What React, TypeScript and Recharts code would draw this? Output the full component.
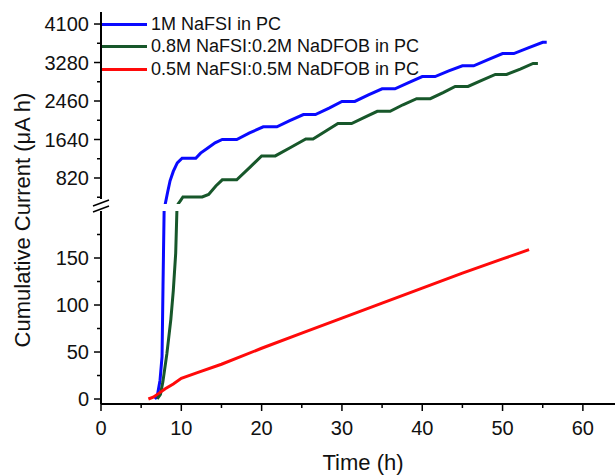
import { LineChart, Line, XAxis, YAxis, Legend } from 'recharts';

// 1M NaFSI in PC
const blueT = [6.7, 7.0, 7.35, 7.6, 7.72, 7.85, 8.0, 8.3, 8.6, 9.0, 9.5, 10.1, 11.8, 12.4, 13.3, 14.2, 15.1, 16.9, 18.5, 20.2, 21.9, 23.5, 25.2, 26.7, 28.4, 30.0, 31.6, 33.3, 35.0, 36.6, 38.3, 40.0, 41.6, 43.3, 45.0, 46.4, 48.2, 50.0, 51.4, 53.2, 55.0, 55.5];
const blueV = [0, 3, 20, 45, 120, 195, 266, 520, 760, 960, 1140, 1240, 1240, 1350, 1460, 1570, 1640, 1640, 1780, 1910, 1910, 2040, 2170, 2170, 2310, 2450, 2450, 2590, 2720, 2720, 2850, 2980, 2980, 3100, 3210, 3210, 3340, 3470, 3470, 3590, 3710, 3710];

// 0.8M NaFSI:0.2M NaDFOB in PC
const greenT = [7.0, 7.4, 7.7, 8.2, 8.7, 9.0, 9.3, 9.45, 9.6, 9.9, 10.2, 12.6, 13.4, 14.3, 15.1, 16.9, 18.5, 20.0, 21.7, 23.6, 25.5, 26.4, 28.0, 29.5, 31.2, 32.8, 34.4, 36.0, 37.6, 39.3, 41.0, 42.6, 44.1, 45.7, 47.4, 49.1, 50.5, 52.2, 53.8, 54.4];
const greenV = [0, 5, 18, 48, 85, 115, 155, 200, 266, 340, 415, 415, 470, 650, 780, 780, 1040, 1290, 1290, 1470, 1650, 1650, 1820, 1980, 1980, 2110, 2240, 2240, 2380, 2510, 2510, 2640, 2770, 2770, 2900, 3025, 3025, 3140, 3260, 3260];

// 0.5M NaFSI:0.5M NaDFOB in PC
const redT = [5.9, 6.5, 7.2, 8.0, 9.0, 10.0, 12, 15, 20, 25, 30, 35, 40, 45, 50, 53.3];
const redV = [0, 2, 6, 11, 16, 22, 28, 37, 54, 70, 86, 102, 118, 134, 149, 159];

const xTicks = [0, 5, 10, 15, 20, 25, 30, 35, 40, 45, 50, 55, 60];
const xMajor = [0, 10, 20, 30, 40, 50, 60];
const upperTicks = [410, 820, 1230, 1640, 2050, 2460, 2870, 3280, 3690, 4100];
const upperMajor = [820, 1640, 2460, 3280, 4100];
const lowerTicks = [0, 25, 50, 75, 100, 125, 150, 175];
const lowerMajor = [0, 50, 100, 150];

const toPoints = (t: number[], v: number[]) => t.map((x, i) => ({ t: x, v: v[i] }));

const series = [
  { name: '1M NaFSI in PC', color: '#0a0aff', data: toPoints(blueT, blueV) },
  { name: '0.8M NaFSI:0.2M NaDFOB in PC', color: '#17572a', data: toPoints(greenT, greenV) },
  { name: '0.5M NaFSI:0.5M NaDFOB in PC', color: '#ff0a0a', data: toPoints(redT, redV) },
];

const FONT = '"Liberation Sans", Arial, sans-serif';

const yTick = (majors: number[]) => (p: any) => {
  const major = majors.includes(p.payload.value);
  return (
    <g>
      <line x1={p.x} x2={p.x - (major ? 7 : 4)} y1={p.y} y2={p.y} stroke="#000" strokeWidth={1.5} />
      {major && (
        <text x={p.x - 12} y={p.y} dy="0.36em" textAnchor="end" fontSize={20} fontFamily={FONT} fill="#111">
          {p.payload.value}
        </text>
      )}
    </g>
  );
};

const xTick = (p: any) => {
  const major = xMajor.includes(p.payload.value);
  return (
    <g>
      <line x1={p.x} x2={p.x} y1={p.y} y2={p.y + (major ? 7 : 4)} stroke="#000" strokeWidth={1.5} />
      {major && (
        <text x={p.x} y={p.y + 31} textAnchor="middle" fontSize={20} fontFamily={FONT} fill="#111">
          {p.payload.value}
        </text>
      )}
    </g>
  );
};

const LegendBox = () => (
  <div style={{ fontFamily: FONT, fontSize: 18, color: '#111' }}>
    {series.map(s => (
      <div key={s.name} style={{ display: 'flex', alignItems: 'center', height: 22.5 }}>
        <div style={{ width: 45, height: 3, background: s.color, marginRight: 4 }} />
        <span style={{ whiteSpace: 'nowrap' }}>{s.name}</span>
      </div>
    ))}
  </div>
);

export default function App() {
  return (
    <div style={{ position: 'absolute', left: 0, top: 0, width: 616, height: 475, background: '#fff', overflow: 'hidden' }}>
      {/* upper part of broken axis */}
      <LineChart width={616} height={206} margin={{ top: 12, right: 1, bottom: 2, left: 0 }}
        style={{ position: 'absolute', left: 0, top: 0 }}>
        <XAxis type="number" dataKey="t" domain={[0, 64]} orientation="top" height={0}
          tick={false} tickLine={false} axisLine={{ stroke: '#000', strokeWidth: 2 }} allowDataOverflow />
        <YAxis type="number" dataKey="v" domain={[266, 4356]} allowDataOverflow width={101}
          ticks={upperTicks} interval={0} tickSize={0} tickMargin={0} tickLine={false}
          tick={yTick(upperMajor)} axisLine={{ stroke: '#000', strokeWidth: 2 }} />
        <Legend layout="vertical" align="center" verticalAlign="middle"
          wrapperStyle={{ left: 102, top: 13, width: 'auto' }} content={() => <LegendBox />} />
        {series.map(s => (
          <Line key={s.name} data={s.data} dataKey="v" name={s.name} type="linear" stroke={s.color}
            strokeWidth={3} dot={false} isAnimationActive={false} />
        ))}
      </LineChart>

      {/* lower part */}
      <LineChart width={616} height={475} margin={{ top: 211, right: 1, bottom: 0, left: 0 }}
        style={{ position: 'absolute', left: 0, top: 0 }}>
        <XAxis type="number" dataKey="t" domain={[0, 64]} height={71} ticks={xTicks} interval={0}
          tickSize={0} tickMargin={0} tickLine={false} tick={xTick} allowDataOverflow
          axisLine={{ stroke: '#000', strokeWidth: 2 }} />
        <YAxis type="number" dataKey="v" domain={[-5.3, 200]} allowDataOverflow width={101}
          ticks={lowerTicks} interval={0} tickSize={0} tickMargin={0} tickLine={false}
          tick={yTick(lowerMajor)} axisLine={{ stroke: '#000', strokeWidth: 2 }} />
        {series.map(s => (
          <Line key={s.name} data={s.data} dataKey="v" name={s.name} type="linear" stroke={s.color}
            strokeWidth={3} dot={false} isAnimationActive={false} />
        ))}
      </LineChart>

      {/* axis titles and break marks */}
      <svg width={616} height={475} style={{ position: 'absolute', left: 0, top: 0, pointerEvents: 'none' }}>
        <rect x={96} y={199} width={10} height={12} fill="#fff" />
        <line x1={93} y1={206} x2={109} y2={200} stroke="#000" strokeWidth={1.5} />
        <line x1={93} y1={212} x2={109} y2={206} stroke="#000" strokeWidth={1.5} />
        <text transform="rotate(-90)" x={-220} y={30} textAnchor="middle" fontSize={22} fontFamily={FONT} fill="#111">
          Cumulative Current (μA h)
        </text>
        <text x={363} y={470} textAnchor="middle" fontSize={22} fontFamily={FONT} fill="#111">
          Time (h)
        </text>
      </svg>
    </div>
  );
}
